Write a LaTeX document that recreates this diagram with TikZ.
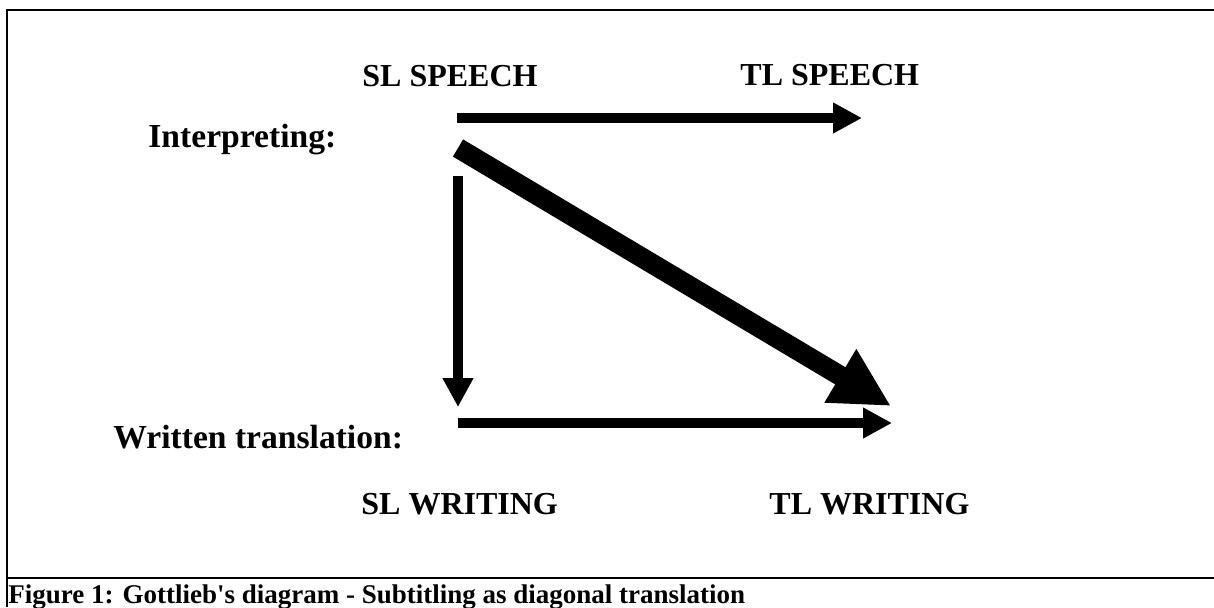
\documentclass[tikz,border=0pt]{standalone}
\usepackage{fontspec}
\setmainfont{Liberation Serif}
\usetikzlibrary{arrows.meta,positioning}

\begin{document}
\begin{tikzpicture}[x=0.5pt,y=-0.5pt,
    lbl/.style={font=\fontsize{16}{18}\selectfont\bfseries, inner sep=0pt, anchor=base west},
    stage/.style={lbl, font=\fontsize{16.8}{19}\selectfont\bfseries},
    flow/.style={line width=5.25pt, -{Triangle[length=14.5pt,width=14.5pt]}},
    bigflow/.style={line width=10pt, -{Triangle[length=29.5pt,width=29pt]}}]
    \useasboundingbox (0,0) rectangle (1214,607);
    % frame of the figure cell
    \draw[line width=1.25pt] (7,607) -- (7,10) -- (1214,10);
    \draw[line width=1.25pt] (7,578) -- (1214,578);
    % labels
    \node[lbl] (slspeech) at (362,86) {SL SPEECH};
    \node[lbl] (tlspeech) at (740,85) {TL SPEECH};
    \node[stage] (interp) at (148,147) {Interpreting:};
    \node[stage] (written) at (113,448) {Written translation:};
    \node[lbl] (slwriting) at (361,514) {SL WRITING};
    \node[lbl] (tlwriting) at (769,514) {TL WRITING};
    % arrow ends
    \coordinate (speechA) at (457,118);
    \coordinate (speechB) at (862,118);
    \coordinate (downA) at (458,176);
    \coordinate (downB) at (458,407);
    \coordinate (writA) at (458,423);
    \coordinate (writB) at (892,423);
    \coordinate (diagA) at (458,148);
    \coordinate (diagB) at (891,406);
    \draw[flow] (speechA) -- (speechB);
    \draw[flow] (downA) -- (downB);
    \draw[flow] (writA) -- (writB);
    \draw[bigflow] (diagA) -- (diagB);
    % caption
    \node[inner sep=0pt, anchor=base west, font=\fontsize{13.5}{15}\selectfont\bfseries] (caption) at (8,603)
      {Figure 1: Gottlieb\textquotesingle s diagram - Subtitling as diagonal translation};
\end{tikzpicture}
\end{document}
